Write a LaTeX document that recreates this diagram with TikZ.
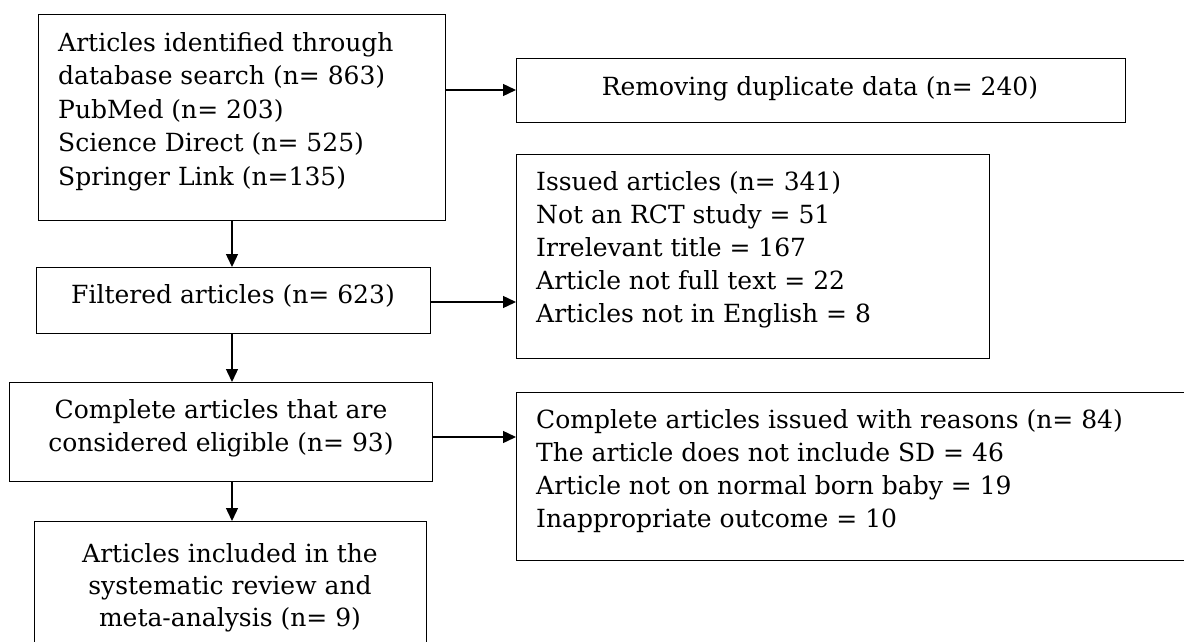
\documentclass[tikz,border=0pt]{standalone}
\usepackage{fontspec}
\setmainfont{DejaVu Serif}
\usetikzlibrary{arrows.meta}
\tikzset{
  box/.style={draw=black, line width=1.4pt, inner sep=0pt, anchor=north west, sharp corners},
  txt/.style={inner sep=0pt, font=\fontsize{25}{33}\selectfont},
  arr/.style={line width=1.4pt, -{Triangle[length=13pt,width=12pt]}}
}
\begin{document}
\begin{tikzpicture}[x=1pt,y=-1pt]
\useasboundingbox (0,0) rectangle (1184,642);
\fill[white] (0,0) rectangle (1184,642);
\clip (0,0) rectangle (1184,642);
% boxes
\node[box, minimum width=407pt, minimum height=206pt] (A) at (38,14) {};
\node[box, minimum width=609pt, minimum height=64pt] (B) at (516,58) {};
\node[box, minimum width=394pt, minimum height=66pt] (C) at (36,267) {};
\node[box, minimum width=473pt, minimum height=204pt] (D) at (516,154) {};
\node[box, minimum width=423pt, minimum height=99pt] (E) at (9,382) {};
\node[box, minimum width=700pt, minimum height=168pt] (F) at (516,392) {};
\node[box, minimum width=392pt, minimum height=160pt] (G) at (34,521) {};
% texts
\node[txt, anchor=north west, align=left, font=\fontsize{25}{33.5}\selectfont] (tA) at (58,32) {Articles identified through\\database search (n= 863)\\PubMed (n= 203)\\Science Direct (n= 525)\\Springer Link (n=135)};
\node[txt, anchor=north] (tB) at (820,76) {Removing duplicate data (n= 240)};
\node[txt, anchor=north] (tC) at (233,284) {Filtered articles (n= 623)};
\node[txt, anchor=north west, align=left] (tD) at (536,171) {Issued articles (n= 341)\\Not an RCT study = 51\\Irrelevant title = 167\\Article not full text = 22\\Articles not in English = 8};
\node[txt, anchor=north, align=center] (tE) at (221,399) {Complete articles that are\\considered eligible (n= 93)};
\node[txt, anchor=north west, align=left] (tF) at (536,409) {Complete articles issued with reasons (n= 84)\\The article does not include SD = 46\\Article not on normal born baby = 19\\Inappropriate outcome = 10};
\node[txt, anchor=north, align=center, font=\fontsize{25}{32}\selectfont] (tG) at (230,543) {Articles included in the\\systematic review and\\meta-analysis (n= 9)};
% connectors
\coordinate (cx) at (232,0);
\coordinate (yAB) at (0,90);
\coordinate (yCD) at (0,302);
\coordinate (yEF) at (0,437);
\draw[arr] (A.east |- yAB) -- (B.west |- yAB);
\draw[arr] (A.south -| cx) -- (C.north -| cx);
\draw[arr] (C.east |- yCD) -- (D.west |- yCD);
\draw[arr] (C.south -| cx) -- (E.north -| cx);
\draw[arr] (E.east |- yEF) -- (F.west |- yEF);
\draw[arr] (E.south -| cx) -- (G.north -| cx);
\end{tikzpicture}
\end{document}
